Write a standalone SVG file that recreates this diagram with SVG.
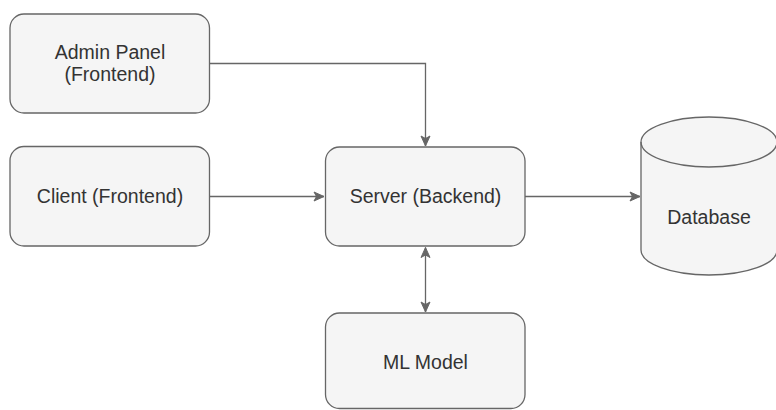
<svg xmlns="http://www.w3.org/2000/svg" width="776" height="410" viewBox="0 0 776 410">
<style>
.box{fill:#f5f5f5;stroke:#666;stroke-width:1.3}
.lbl{font-family:"Liberation Sans",Arial,sans-serif;font-size:19.5px;fill:#333;text-anchor:middle}
.edge{fill:none;stroke:#666;stroke-width:1.3}
</style>
<defs>
<marker id="ah" viewBox="0 0 12 12" refX="11" refY="6" markerWidth="12" markerHeight="12" markerUnits="userSpaceOnUse" orient="auto-start-reverse">
<path d="M1,1.5 L11,6 L1,10.5 L3.5,6 Z" fill="#666" stroke="#666" stroke-width="1"/>
</marker>
</defs>
<rect width="776" height="410" fill="#fff"/>
<g id="edges">
<path class="edge" d="M209.5,63.5 H425.5 V146" marker-end="url(#ah)"/>
<path class="edge" d="M209.5,196.5 H324" marker-end="url(#ah)"/>
<path class="edge" d="M525,196.5 H640" marker-end="url(#ah)"/>
<path class="edge" d="M425.5,247.5 V312" marker-start="url(#ah)" marker-end="url(#ah)"/>
</g>
<g id="admin">
<rect class="box" x="10" y="14" width="199.5" height="99" rx="14"/>
<text class="lbl" x="110" y="59">Admin Panel</text>
<text class="lbl" x="110" y="81">(Frontend)</text>
</g>
<g id="client">
<rect class="box" x="10" y="146.5" width="199.5" height="99.5" rx="14"/>
<text class="lbl" x="110" y="203">Client (Frontend)</text>
</g>
<g id="server">
<rect class="box" x="325.5" y="147" width="199.5" height="99" rx="14"/>
<text class="lbl" x="425.5" y="203">Server (Backend)</text>
</g>
<g id="database">
<path class="box" d="M641,142 A68,25 0 0 1 777,142 V250 A68,25 0 0 1 641,250 Z"/>
<path class="edge" d="M641,142 A68,25 0 0 0 777,142"/>
<text class="lbl" x="709" y="224">Database</text>
</g>
<g id="ml">
<rect class="box" x="325.5" y="313" width="199.5" height="95.5" rx="14"/>
<text class="lbl" x="425.5" y="369">ML Model</text>
</g>
</svg>
